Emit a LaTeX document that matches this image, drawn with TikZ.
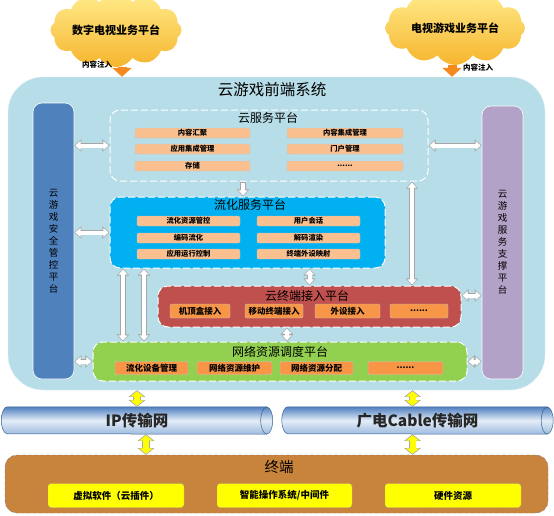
\documentclass[tikz,border=0pt]{standalone}
\usepackage{fontspec}
\setmainfont{Noto Sans CJK SC}
\usetikzlibrary{arrows.meta,positioning,shapes.symbols}
\definecolor{frm}{HTML}{B7DEE8}
\definecolor{secb}{HTML}{4F81BD}
\definecolor{supp}{HTML}{B3A2C7}
\definecolor{strm}{HTML}{00B0F0}
\definecolor{accr}{HTML}{C0504D}
\definecolor{netg}{HTML}{92D050}
\definecolor{itl}{HTML}{FAC090}
\definecolor{itd}{HTML}{F79646}
\definecolor{term}{HTML}{C8843C}
\definecolor{ylw}{HTML}{FFFF00}
\definecolor{cldt}{HTML}{FFEB8A}
\definecolor{cldb}{HTML}{F6B52E}
\definecolor{inj}{HTML}{F58A1F}
\definecolor{pipet}{HTML}{4F80C0}
\definecolor{pipem}{HTML}{E4EDF7}
\definecolor{pipeb}{HTML}{9DBBDF}
\tikzset{
  wt/.tip={Triangle[width=0pt 2.2,length=0pt 1.3]},
  yt/.tip={Triangle[width=0pt 2.2,length=0pt 0.9]},
  plat/.style={draw=white,line width=1pt,dash pattern=on 7pt off 3pt,rounded corners=10pt},
  ptitle/.style={font=\fontsize{12}{13}\selectfont},
  item/.style={draw=gray!45,fill=itl,rounded corners=1.5pt,inner sep=0pt,font=\bfseries\fontsize{7.3}{8}\selectfont},
  ditem/.style={item,fill=itd,font=\bfseries\fontsize{8.5}{9}\selectfont},
  yitem/.style={draw=gray!70,dash pattern=on 3pt off 1.5pt,fill=ylw,rounded corners=3pt,inner sep=0pt,font=\bfseries\fontsize{9.5}{10}\selectfont},
  bar/.style={draw=white,line width=0.6pt,rounded corners=9pt,align=center,font=\fontsize{9.5}{12}\selectfont},
  cld/.style={cloud,cloud puffs=12,cloud puff arc=115,aspect=2.2,top color=cldt,bottom color=cldb,draw=none,inner sep=1pt,font=\bfseries\fontsize{11}{12}\selectfont},
  pipe/.style={top color=pipet,bottom color=pipeb,middle color=pipem,draw=pipet!75!black,line width=0.5pt},
  pipetxt/.style={font=\bfseries\fontsize{15.5}{16}\selectfont,text=black!85},
  wa/.style={draw=white,line width=4pt,shorten >=1pt,shorten <=1pt,
    preaction={draw=gray!70,line width=5.5pt,shorten >=0pt,shorten <=0pt}},
  ya/.style={draw=ylw,line width=6pt,shorten >=1pt,shorten <=1pt,yt-yt,
    preaction={draw=gray!70,line width=7.5pt,shorten >=0pt,shorten <=0pt}},
  oa/.style={draw=inj,line width=9pt,-{Triangle[width=19pt,length=9pt]}},
  lbl/.style={font=\bfseries\fontsize{7.5}{8}\selectfont},
}
\begin{document}
\begin{tikzpicture}[x=1pt,y=-1pt]
  \useasboundingbox (0,0) rectangle (554,515);
  % content sources
  \node[cld,minimum width=122,minimum height=58] (cda) at (116,30) {数字电视业务平台};
  \node[cld,minimum width=140,minimum height=58] (cdb) at (455,28) {电视游戏业务平台};
  % front-end system
  \node[fill=frm,draw=white!60!frm,rounded corners=35pt,minimum width=537,minimum height=313] (frame) at (276.5,233.5) {};
  \node[font=\fontsize{15.5}{16}\selectfont] (ftitle) at (272,90) {云游戏前端系统};
  \draw[oa] ([xshift=6]cda.south) -- ([xshift=6]cda.south |- frame.north);
  \draw[oa] ([xshift=-3]cdb.south) -- ([xshift=-3]cdb.south |- frame.north);
  \node[lbl] (ina) at (97,65) {内容注入};
  \node[lbl] (inb) at (478,68) {内容注入};
  \node[bar,fill=secb,minimum width=41,minimum height=276] (secbar) at (53.5,241) {云\\游\\戏\\安\\全\\管\\控\\平\\台};
  \node[bar,fill=supp,minimum width=41,minimum height=273] (supbar) at (502.5,242.5) {云\\游\\戏\\服\\务\\支\\撑\\平\\台};
  % cloud service platform
  \node[plat,fill=frm,minimum width=318,minimum height=71] (csvc) at (269,145.5) {};
  \node[ptitle] (csvct) at (268,118) {云服务平台};
  \node[item,minimum width=115,minimum height=10] (c1) at (192.5,133) {内容汇聚};
  \node[item,minimum width=115,minimum height=10] (c2) at (192.5,149) {应用集成管理};
  \node[item,minimum width=115,minimum height=10] (c3) at (192.5,166) {存储};
  \node[item,minimum width=116,minimum height=10] (c4) at (345,133) {内容集成管理};
  \node[item,minimum width=116,minimum height=10] (c5) at (345,149) {门户管理};
  \node[item,minimum width=116,minimum height=10] (c6) at (345,166) {......};
  % streaming service platform
  \node[plat,fill=strm,minimum width=275,minimum height=71] (strm) at (247.5,232.5) {};
  \node[ptitle] (strmt) at (250,205) {流化服务平台};
  \node[item,minimum width=103,minimum height=10] (s1) at (188.5,221) {流化资源管控};
  \node[item,minimum width=103,minimum height=10] (s2) at (188.5,238) {编码流化};
  \node[item,minimum width=103,minimum height=10] (s3) at (188.5,254) {应用运行控制};
  \node[item,minimum width=103,minimum height=10] (s4) at (308.5,221) {用户会话};
  \node[item,minimum width=103,minimum height=10] (s5) at (308.5,238) {解码渲染};
  \node[item,minimum width=103,minimum height=10] (s6) at (308.5,254) {终端外设映射};
  % cloud terminal access platform
  \node[plat,fill=accr,minimum width=303,minimum height=41] (acc) at (309.5,306.5) {};
  \node[ptitle] (acct) at (307,296) {云终端接入平台};
  \node[ditem,minimum width=60,minimum height=14] (a1) at (200,311) {机顶盒接入};
  \node[ditem,minimum width=58,minimum height=14] (a2) at (274,311) {移动终端接入};
  \node[ditem,minimum width=65,minimum height=14] (a3) at (347.5,311) {外设接入};
  \node[ditem,minimum width=58,minimum height=14] (a4) at (419,311) {......};
  % network resource scheduling platform
  \node[plat,fill=netg,minimum width=374,minimum height=39] (net) at (280,361.5) {};
  \node[ptitle] (nett) at (280,352) {网络资源调度平台};
  \node[ditem,minimum width=73,minimum height=13] (n1) at (151.5,368) {流化设备管理};
  \node[ditem,minimum width=75,minimum height=13] (n2) at (234.5,368) {网络资源维护};
  \node[ditem,minimum width=73,minimum height=13] (n3) at (316.5,368) {网络资源分配};
  \node[ditem,minimum width=75,minimum height=13] (n4) at (405.5,368) {......};
  % transport networks
  \node[minimum width=259,minimum height=27,inner sep=0pt] (ipb) at (137,420.5) {};
  \shadedraw[pipe] (ipb.north east) -- (ipb.north west) arc[start angle=90,end angle=270,x radius=6pt,y radius=13.5pt] -- (ipb.south east) -- cycle;
  \shadedraw[pipe] (ipb.east) ellipse [x radius=6pt,y radius=13.5pt];
  \node[pipetxt] (ip) at (ipb.center) {IP传输网};
  \node[minimum width=259,minimum height=27,inner sep=0pt] (cabb) at (417.5,420.5) {};
  \shadedraw[pipe] (cabb.north east) -- (cabb.north west) arc[start angle=90,end angle=270,x radius=6pt,y radius=13.5pt] -- (cabb.south east) -- cycle;
  \shadedraw[pipe] (cabb.east) ellipse [x radius=6pt,y radius=13.5pt];
  \node[pipetxt] (cab) at (cabb.center) {广电Cable传输网};
  % terminal
  \node[draw=gray,dash pattern=on 4pt off 2pt,fill=term,rounded corners=12pt,minimum width=543,minimum height=58] (term) at (276.5,484) {};
  \node[font=\fontsize{14.5}{15}\selectfont] (termt) at (279,467) {终端};
  \node[yitem,minimum width=136,minimum height=24] (t1) at (116,495.5) {虚拟软件（云插件）};
  \node[yitem,minimum width=135,minimum height=24] (t2) at (284.5,495.5) {智能操作系统/中间件};
  \node[yitem,minimum width=136,minimum height=24] (t3) at (453,495.5) {硬件资源};
  % links inside the front-end
  \draw[wa,-wt] ([xshift=-26]csvc.south) -- ([xshift=-26]csvc.south |- strm.north);
  \draw[wa,wt-wt] ([xshift=143]csvc.south) -- ([xshift=143]csvc.south |- acc.north);
  \draw[wa,wt-wt] (acc.north |- strm.south) -- (acc.north);
  \draw[wa,wt-wt] ([xshift=7]net.north) -- ([xshift=7]net.north |- acc.south);
  \draw[wa,wt-wt] ([xshift=-157]net.north) -- ([xshift=-157]net.north |- strm.south);
  \draw[wa,wt-wt] ([xshift=-136]net.north) -- ([xshift=-136]net.north |- strm.south);
  \draw[wa,wt-wt] (secbar.east |- csvc.west) -- (csvc.west);
  \draw[wa,wt-wt] (secbar.east |- strm.west) -- (strm.west);
  \draw[wa,wt-wt] (secbar.east |- net.west) -- (net.west);
  \draw[wa,wt-wt] (csvc.east) -- (supbar.west |- csvc.east);
  \draw[wa,wt-wt] ([yshift=11]acc.east) -- ([yshift=11]supbar.west |- acc.east);
  \draw[wa,wt-wt] (net.east) -- (supbar.west |- net.east);
  % links to the networks and the terminal
  \draw[ya] (ipb.north |- frame.south) -- (ipb.north);
  \draw[ya] ([xshift=9]ipb.south) -- ([xshift=9]ipb.south |- term.north);
  \draw[ya] ([xshift=-5]cabb.north |- frame.south) -- ([xshift=-5]cabb.north);
  \draw[ya] ([xshift=-5]cabb.south) -- ([xshift=-5]cabb.south |- term.north);
\end{tikzpicture}
\end{document}
